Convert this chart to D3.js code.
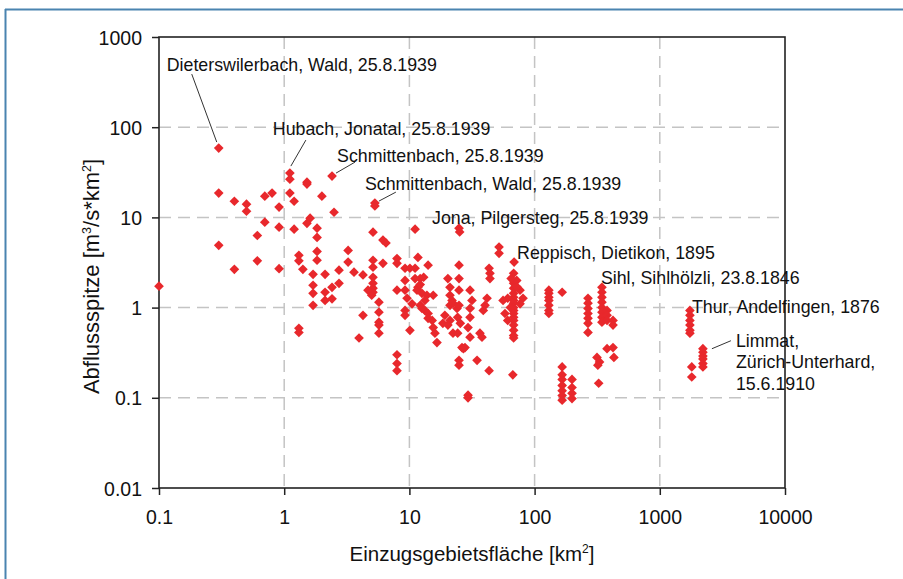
<!DOCTYPE html>
<html>
<head>
<meta charset="utf-8">
<script src="https://cdn.jsdelivr.net/npm/d3@7"></script>
<style>
  html, body { margin: 0; padding: 0; background: #fff; }
  svg { display: block; font-family: "Liberation Sans", Arial, sans-serif; }
</style>
</head>
<body>
<svg id="chart" width="903" height="579"></svg>
<script>
// Catchment area [km²] and specific peak discharge [m³/s*km²], grouped by basin size
const smallBasins = [
  [0.1, 1.73], [0.3, 58.7], [0.3, 18.6], [0.3, 4.9], [0.4, 15.1], [0.4, 2.66],
  [0.5, 14.0], [0.5, 11.7], [0.61, 6.3], [0.61, 3.3], [0.7, 17.2], [0.8, 18.6],
  [0.7, 8.85], [0.91, 13.0], [0.91, 7.8], [0.91, 2.7], [1.11, 31], [1.11, 26.5],
  [1.11, 18.6], [1.2, 15.1], [1.2, 7.4], [1.31, 3.8], [1.31, 3.3], [1.41, 2.66],
  [1.31, 0.59], [1.31, 0.53], [1.52, 24.6], [1.52, 23.4], [1.52, 8.6], [1.61, 9.8],
  [1.7, 2.34], [1.7, 1.77], [1.7, 1.44], [1.7, 1.06], [1.83, 7.6], [1.83, 6.0],
  [1.83, 4.2], [1.83, 3.35], [2.0, 17.2], [2.12, 2.34], [2.12, 1.48], [2.12, 1.2],
  [2.41, 28.7], [2.5, 11.4], [2.41, 1.68], [2.41, 1.25], [2.74, 2.6], [2.74, 1.86]
];
const mediumBasins = [
  [3.24, 4.3], [3.24, 3.2], [3.61, 2.47], [3.96, 0.46], [4.26, 0.82], [4.26, 2.3],
  [5.3, 14.4], [5.3, 13.4], [5.12, 6.85], [6.15, 5.6], [6.5, 5.2], [5.12, 3.35],
  [5.12, 2.8], [5.12, 2.17], [5.12, 1.86], [5.12, 1.64], [5.12, 1.48], [4.67, 1.56],
  [5.0, 1.37], [6.15, 3.1], [5.71, 1.15], [5.71, 0.89], [5.71, 0.69], [5.71, 0.64],
  [5.71, 0.52], [7.96, 3.5], [7.96, 3.1], [7.96, 1.56], [7.96, 0.30], [7.96, 0.24],
  [7.96, 0.20], [9.23, 2.73], [10.1, 2.73], [11.1, 2.73], [9.23, 2.0], [9.23, 1.56],
  [9.58, 1.27], [9.23, 0.93], [9.23, 0.82], [10.1, 0.56], [11.1, 7.4], [11.7, 3.6],
  [12.2, 2.1], [13.0, 2.17], [11.7, 1.68], [11.5, 1.56], [12.6, 1.44], [13.8, 1.37],
  [12.2, 1.06], [13.3, 0.93], [14.1, 0.86], [15.2, 0.72], [15.5, 0.60], [16.0, 0.52],
  [16.6, 0.41], [14.1, 2.95], [15.5, 1.37], [19.2, 0.82], [18.5, 0.67], [21.1, 0.72],
  [20.3, 0.64], [22.3, 0.52], [20.3, 2.1], [21.1, 1.68], [21.1, 1.37], [21.9, 1.2],
  [21.1, 1.06], [22.3, 1.12], [24.0, 0.98], [24.9, 7.6], [25.2, 6.9], [24.9, 2.95],
  [24.9, 2.1], [24.9, 1.56], [24.9, 1.06], [24.3, 0.78], [25.5, 0.67], [24.3, 0.52],
  [26.3, 0.36], [27.0, 0.35], [27.8, 0.36], [24.9, 0.26], [24.9, 0.23], [29.4, 0.107],
  [29.4, 0.100], [11.1, 2.1], [12.2, 1.8], [13.3, 1.2], [12.6, 0.98], [14.1, 0.76],
  [10.5, 1.1]
];
const largeBasins = [
  [34.7, 0.26], [36.6, 0.52], [38.0, 0.47], [43.3, 2.73], [44, 2.4], [44, 2.1],
  [41.7, 1.27], [40.2, 1.06], [38.9, 0.93], [43.3, 0.20], [30.5, 1.56], [31.6, 1.2],
  [30.5, 0.98], [30.5, 0.78], [29.4, 0.60], [30.5, 0.47], [52, 4.7], [52, 4.0],
  [68.6, 3.2], [68, 2.4], [68, 1.86], [68, 1.64], [68, 1.44], [68, 1.3], [68, 1.2],
  [68, 1.12], [68, 1.0], [68, 0.93], [68, 0.86], [68, 0.78], [68, 0.72], [68, 0.64],
  [68, 0.56], [68, 0.49], [68, 0.46], [76.5, 1.56], [80.8, 1.27], [76.5, 1.1],
  [61, 1.27], [56, 1.2], [58, 0.86], [61, 0.72], [72, 2.0], [72, 1.7], [65, 2.1],
  [64, 1.0], [67, 0.18]
];
const riverStations = [
  [130, 1.56], [130, 1.44], [130, 1.3], [130, 1.2], [130, 1.06], [130, 0.93], [130, 0.86],
  [166, 1.48], [166, 0.22], [166, 0.18], [166, 0.16], [166, 0.137], [166, 0.12],
  [166, 0.106], [166, 0.094], [199, 0.16], [199, 0.13], [199, 0.112], [199, 0.098],
  [267, 1.27], [267, 1.12], [267, 0.98], [267, 0.86], [267, 0.76], [267, 0.67], [267, 0.53],
  [345, 1.68], [345, 1.48], [345, 1.3], [345, 1.15], [345, 1.0], [345, 0.89], [345, 0.78],
  [345, 0.69], [379, 0.93], [379, 0.82], [379, 0.72], [423, 0.72], [423, 0.64],
  [379, 0.35], [423, 0.36], [430, 0.28], [315, 0.28], [330, 0.25], [320, 0.23], [325, 0.145],
  [1740, 0.93], [1740, 0.82], [1740, 0.72], [1740, 0.64], [1740, 0.56], [1740, 0.52],
  [1800, 0.22], [1800, 0.17],
  [2210, 0.35], [2210, 0.32], [2210, 0.29], [2210, 0.27], [2210, 0.24], [2210, 0.22]
];

// Named flood events: label lines, area, peak
const eventLabels = [
  ["Dieterswilerbach, Wald, 25.8.1939"],
  ["Hubach, Jonatal, 25.8.1939"],
  ["Schmittenbach, 25.8.1939"],
  ["Schmittenbach, Wald, 25.8.1939"],
  ["Jona, Pilgersteg, 25.8.1939"],
  ["Reppisch, Dietikon, 1895"],
  ["Sihl, Sihlhölzli, 23.8.1846"],
  ["Thur, Andelfingen, 1876"],
  ["Limmat,", "Zürich-Unterhard,", "15.6.1910"]
];
const eventArea = [0.3, 1.11, 2.41, 5.3, 24.9, 68.6, 345, 1740, 2210];
const eventPeak = [58.7, 31, 28.7, 14.4, 7.6, 3.2, 1.68, 0.93, 0.35];

const xTicks = [0.1, 1, 10, 100, 1000, 10000];
const xTickLabels = ["0.1", "1", "10", "100", "1000", "10000"];
const yTicks = [0.01, 0.1, 1, 10, 100, 1000];
const yTickLabels = ["0.01", "0.1", "1", "10", "100", "1000"];

// Label placement (pixel offsets from the event point): text start, leader start, leader end
const labelLayout = [
  { tx: -52, ty: -77, l0: [-2, -6], l1: [-27, -74] },
  { tx: -17, ty: -38, l0: [1, -7], l1: [16, -33] },
  { tx: 5, ty: -14, l0: [4, -3], l1: [23, -14] },
  { tx: -10, ty: -13, l0: [4, -2], l1: [21, -11] },
  { tx: -27, ty: -4, l0: null, l1: null },
  { tx: 3, ty: -3, l0: null, l1: null },
  { tx: -1, ty: -3, l0: null, l1: null },
  { tx: 2, ty: 3, l0: null, l1: null },
  { tx: 33, ty: -2, l0: [9, 0], l1: [28, -8] }
];

const svg = d3.select("#chart");
const W = 903, H = 579;
const plot = { left: 159, right: 785, top: 37, bottom: 488 };

const x = d3.scaleLog().domain([0.1, 10000]).range([plot.left, plot.right]);
const y = d3.scaleLog().domain([0.01, 1000]).range([plot.bottom, plot.top]);

// outer page frame (top and left rules)
svg.append("line").attr("x1", 5).attr("x2", W).attr("y1", 9.5).attr("y2", 9.5)
  .attr("stroke", "#4a84b0").attr("stroke-width", 2);
svg.append("line").attr("x1", 5.5).attr("x2", 5.5).attr("y1", 9).attr("y2", H)
  .attr("stroke", "#4a84b0").attr("stroke-width", 2);

// dashed decade grid
const grid = svg.append("g").attr("stroke", "#c4c4c4").attr("stroke-width", 1.5)
  .attr("stroke-dasharray", "12,7");
grid.selectAll(".gx").data(xTicks.slice(1, -1)).join("line")
  .attr("x1", d => x(d)).attr("x2", d => x(d))
  .attr("y1", plot.top).attr("y2", plot.bottom);
grid.selectAll(".gy").data(yTicks.slice(1, -1)).join("line")
  .attr("x1", plot.left).attr("x2", plot.right)
  .attr("y1", d => y(d)).attr("y2", d => y(d));

// axes
const xAxis = d3.axisBottom(x).tickValues(xTicks)
  .tickFormat((d, i) => xTickLabels[i]).tickSize(7).tickPadding(15);
const yAxis = d3.axisLeft(y).tickValues(yTicks)
  .tickFormat((d, i) => yTickLabels[i]).tickSize(7).tickPadding(10);

const gx = svg.append("g").attr("transform", `translate(0,${plot.bottom})`).call(xAxis);
const gy = svg.append("g").attr("transform", `translate(${plot.left},0)`).call(yAxis);
[gx, gy].forEach(g => {
  g.select(".domain").remove();
  g.selectAll(".tick line").attr("stroke", "#222").attr("stroke-width", 1.5);
  g.selectAll(".tick text").attr("fill", "#111").style("font-size", "19.5px")
    .style("font-family", "'Liberation Sans', Arial, sans-serif");
});
gy.selectAll(".tick text").attr("dy", "0.36em");

// plot frame
svg.append("rect")
  .attr("x", plot.left).attr("y", plot.top)
  .attr("width", plot.right - plot.left).attr("height", plot.bottom - plot.top)
  .attr("fill", "none").attr("stroke", "#222").attr("stroke-width", 1.6);

// data points
const allPoints = [].concat(smallBasins, mediumBasins, largeBasins, riverStations);
const diamond = d3.symbol().type(d3.symbolDiamond2).size(60);
svg.append("g").selectAll("path").data(allPoints).join("path")
  .attr("d", diamond)
  .attr("transform", d => `translate(${x(d[0])},${y(d[1])})`)
  .attr("fill", "#e8282c");

// event labels with leader lines
const ann = svg.append("g").attr("fill", "#111")
  .style("font-size", "17.8px");
eventLabels.forEach((lines, i) => {
  const px = x(eventArea[i]), py = y(eventPeak[i]);
  const L = labelLayout[i];
  if (L.l0) {
    ann.append("line")
      .attr("x1", px + L.l0[0]).attr("y1", py + L.l0[1])
      .attr("x2", px + L.l1[0]).attr("y2", py + L.l1[1])
      .attr("stroke", "#333").attr("stroke-width", 1);
  }
  const t = ann.append("text").attr("x", px + L.tx).attr("y", py + L.ty);
  lines.forEach((s, k) => {
    t.append("tspan").attr("x", px + L.tx).attr("dy", k === 0 ? 0 : 21.5).text(s);
  });
});

// axis titles
const xt = svg.append("text")
  .attr("x", (plot.left + plot.right) / 2).attr("y", 561)
  .attr("text-anchor", "middle").attr("fill", "#111").style("font-size", "20.5px");
xt.append("tspan").text("Einzugsgebietsfläche [km");
xt.append("tspan").attr("dy", -8).style("font-size", "12px").text("2");
xt.append("tspan").attr("dy", 8).text("]");

const yt = svg.append("text")
  .attr("transform", `translate(99,${(plot.top + plot.bottom) / 2 + 14}) rotate(-90)`)
  .attr("text-anchor", "middle").attr("fill", "#111").style("font-size", "22px");
yt.append("tspan").text("Abflussspitze [m");
yt.append("tspan").attr("dy", -8).style("font-size", "12.5px").text("3");
yt.append("tspan").attr("dy", 8).text("/s*km");
yt.append("tspan").attr("dy", -8).style("font-size", "12.5px").text("2");
yt.append("tspan").attr("dy", 8).text("]");
</script>
</body>
</html>
